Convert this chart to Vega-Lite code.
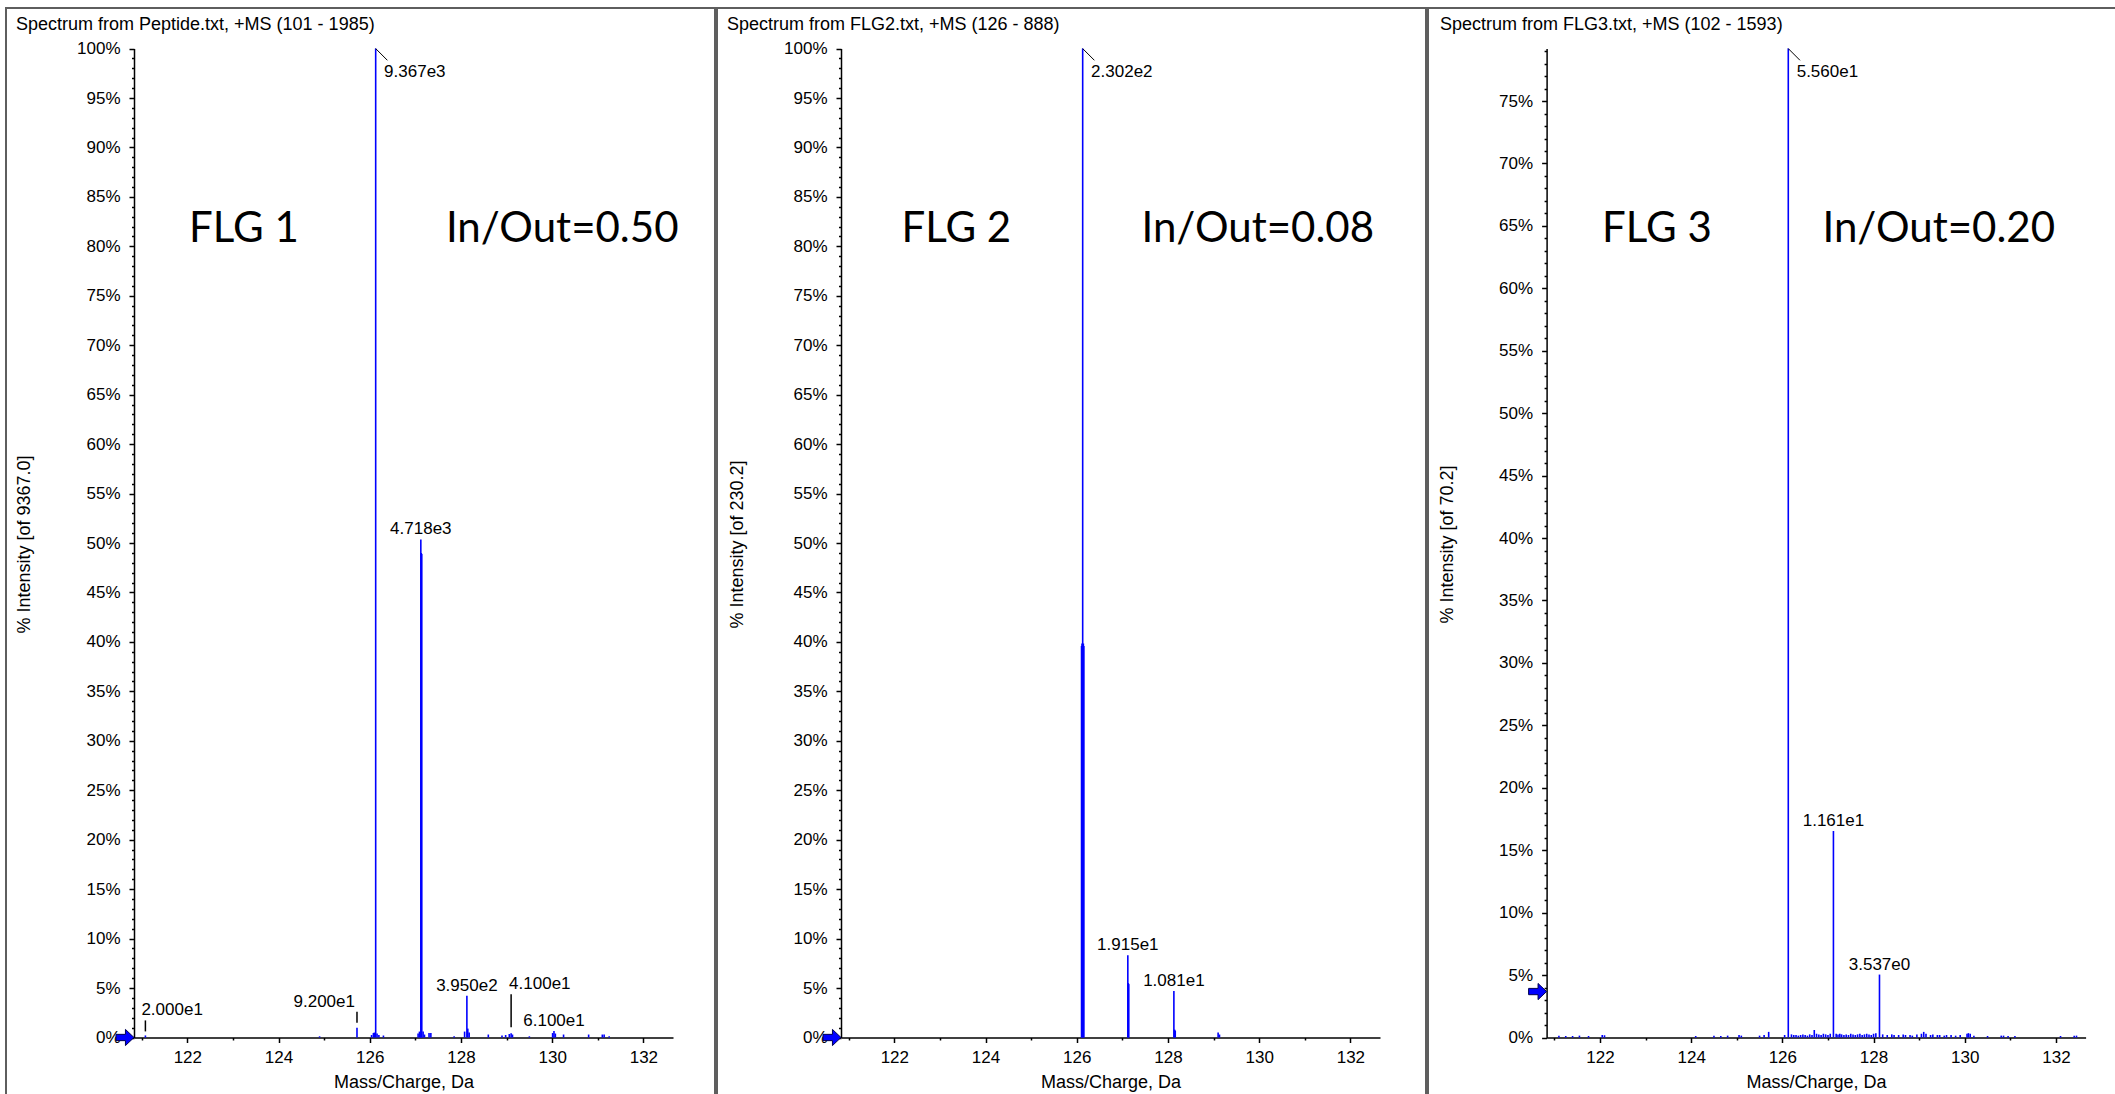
{
  "$schema": "https://vega.github.io/schema/vega-lite/v6.json",
  "background": "white",
  "padding": {"left": 5, "top": 7, "right": -3, "bottom": -3},
  "autosize": {"type": "pad"},
  "spacing": 0,
  "config": {
    "view": {"stroke": "#5e5e5e", "strokeWidth": 2},
    "font": "Liberation Sans",
    "concat": {"spacing": 0}
  },
  "datasets": {
    "peaks": [
      {"panel": 1, "mz": 121.08, "pct": 0.21},
      {"panel": 1, "mz": 124.9, "pct": 0.12},
      {"panel": 1, "mz": 125.72, "pct": 0.98},
      {"panel": 1, "mz": 126.04, "pct": 0.25},
      {"panel": 1, "mz": 126.08, "pct": 0.45},
      {"panel": 1, "mz": 126.1, "pct": 0.5},
      {"panel": 1, "mz": 126.13, "pct": 100},
      {"panel": 1, "mz": 126.16, "pct": 0.4},
      {"panel": 1, "mz": 126.2, "pct": 0.25},
      {"panel": 1, "mz": 126.3, "pct": 0.2},
      {"panel": 1, "mz": 127.06, "pct": 0.4},
      {"panel": 1, "mz": 127.09, "pct": 0.6},
      {"panel": 1, "mz": 127.12, "pct": 50.37},
      {"panel": 1, "mz": 127.13, "pct": 49.0},
      {"panel": 1, "mz": 127.14, "pct": 48.9},
      {"panel": 1, "mz": 127.17, "pct": 0.6},
      {"panel": 1, "mz": 127.2, "pct": 0.3},
      {"panel": 1, "mz": 127.3, "pct": 0.45},
      {"panel": 1, "mz": 127.34, "pct": 0.45},
      {"panel": 1, "mz": 127.85, "pct": 0.12},
      {"panel": 1, "mz": 128.08, "pct": 0.6},
      {"panel": 1, "mz": 128.13, "pct": 4.22},
      {"panel": 1, "mz": 128.15, "pct": 0.9},
      {"panel": 1, "mz": 128.18, "pct": 0.5},
      {"panel": 1, "mz": 128.6, "pct": 0.3},
      {"panel": 1, "mz": 128.9, "pct": 0.2},
      {"panel": 1, "mz": 128.98, "pct": 0.25},
      {"panel": 1, "mz": 129.06, "pct": 0.35},
      {"panel": 1, "mz": 129.1, "pct": 0.44},
      {"panel": 1, "mz": 129.13, "pct": 0.3},
      {"panel": 1, "mz": 129.5, "pct": 0.12},
      {"panel": 1, "mz": 130.01, "pct": 0.45},
      {"panel": 1, "mz": 130.04, "pct": 0.65},
      {"panel": 1, "mz": 130.07, "pct": 0.4},
      {"panel": 1, "mz": 130.25, "pct": 0.3},
      {"panel": 1, "mz": 130.8, "pct": 0.3},
      {"panel": 1, "mz": 131.1, "pct": 0.3},
      {"panel": 1, "mz": 131.14, "pct": 0.3},
      {"panel": 1, "mz": 131.25, "pct": 0.12},
      {"panel": 2, "mz": 126.105, "pct": 39.6},
      {"panel": 2, "mz": 126.115, "pct": 39.84},
      {"panel": 2, "mz": 126.13, "pct": 100},
      {"panel": 2, "mz": 126.145, "pct": 39.84},
      {"panel": 2, "mz": 126.155, "pct": 39.6},
      {"panel": 2, "mz": 127.12, "pct": 8.32},
      {"panel": 2, "mz": 127.13, "pct": 5.5},
      {"panel": 2, "mz": 127.14, "pct": 5.4},
      {"panel": 2, "mz": 128.13, "pct": 4.7},
      {"panel": 2, "mz": 128.145, "pct": 0.8},
      {"panel": 2, "mz": 128.16, "pct": 0.7},
      {"panel": 2, "mz": 129.1, "pct": 0.5},
      {"panel": 2, "mz": 129.13, "pct": 0.3},
      {"panel": 3, "mz": 126.13, "pct": 79.2},
      {"panel": 3, "mz": 127.12, "pct": 16.54},
      {"panel": 3, "mz": 128.13, "pct": 5.04},
      {"panel": 3, "mz": 121.1, "pct": 0.15},
      {"panel": 3, "mz": 121.25, "pct": 0.12},
      {"panel": 3, "mz": 121.4, "pct": 0.12},
      {"panel": 3, "mz": 121.55, "pct": 0.15},
      {"panel": 3, "mz": 121.75, "pct": 0.12},
      {"panel": 3, "mz": 122.05, "pct": 0.2},
      {"panel": 3, "mz": 122.1, "pct": 0.18},
      {"panel": 3, "mz": 124.1, "pct": 0.12},
      {"panel": 3, "mz": 124.5, "pct": 0.15},
      {"panel": 3, "mz": 124.65, "pct": 0.12},
      {"panel": 3, "mz": 124.8, "pct": 0.15},
      {"panel": 3, "mz": 125.05, "pct": 0.2},
      {"panel": 3, "mz": 125.1, "pct": 0.15},
      {"panel": 3, "mz": 125.5, "pct": 0.15},
      {"panel": 3, "mz": 125.6, "pct": 0.2},
      {"panel": 3, "mz": 125.7, "pct": 0.45},
      {"panel": 3, "mz": 126.05, "pct": 0.2},
      {"panel": 3, "mz": 126.2, "pct": 0.25},
      {"panel": 3, "mz": 126.25, "pct": 0.2},
      {"panel": 3, "mz": 126.3, "pct": 0.2},
      {"panel": 3, "mz": 126.35, "pct": 0.15},
      {"panel": 3, "mz": 126.4, "pct": 0.2},
      {"panel": 3, "mz": 126.45, "pct": 0.25},
      {"panel": 3, "mz": 126.5, "pct": 0.2},
      {"panel": 3, "mz": 126.55, "pct": 0.15},
      {"panel": 3, "mz": 126.6, "pct": 0.25},
      {"panel": 3, "mz": 126.65, "pct": 0.2},
      {"panel": 3, "mz": 126.7, "pct": 0.6},
      {"panel": 3, "mz": 126.75, "pct": 0.3},
      {"panel": 3, "mz": 126.8, "pct": 0.25},
      {"panel": 3, "mz": 126.85, "pct": 0.2},
      {"panel": 3, "mz": 126.9, "pct": 0.3},
      {"panel": 3, "mz": 126.95, "pct": 0.25},
      {"panel": 3, "mz": 127.0, "pct": 0.2},
      {"panel": 3, "mz": 127.05, "pct": 0.3},
      {"panel": 3, "mz": 127.18, "pct": 0.3},
      {"panel": 3, "mz": 127.22, "pct": 0.25},
      {"panel": 3, "mz": 127.26, "pct": 0.3},
      {"panel": 3, "mz": 127.3, "pct": 0.25},
      {"panel": 3, "mz": 127.35, "pct": 0.2},
      {"panel": 3, "mz": 127.4, "pct": 0.25},
      {"panel": 3, "mz": 127.45, "pct": 0.2},
      {"panel": 3, "mz": 127.5, "pct": 0.3},
      {"panel": 3, "mz": 127.55, "pct": 0.25},
      {"panel": 3, "mz": 127.6, "pct": 0.2},
      {"panel": 3, "mz": 127.65, "pct": 0.25},
      {"panel": 3, "mz": 127.7, "pct": 0.3},
      {"panel": 3, "mz": 127.75, "pct": 0.2},
      {"panel": 3, "mz": 127.8, "pct": 0.25},
      {"panel": 3, "mz": 127.85, "pct": 0.3},
      {"panel": 3, "mz": 127.9, "pct": 0.25},
      {"panel": 3, "mz": 127.95, "pct": 0.2},
      {"panel": 3, "mz": 128.0, "pct": 0.3},
      {"panel": 3, "mz": 128.05, "pct": 0.35},
      {"panel": 3, "mz": 128.2, "pct": 0.25},
      {"panel": 3, "mz": 128.3, "pct": 0.2},
      {"panel": 3, "mz": 128.4, "pct": 0.25},
      {"panel": 3, "mz": 128.45, "pct": 0.2},
      {"panel": 3, "mz": 128.55, "pct": 0.2},
      {"panel": 3, "mz": 128.65, "pct": 0.25},
      {"panel": 3, "mz": 128.7, "pct": 0.2},
      {"panel": 3, "mz": 128.8, "pct": 0.2},
      {"panel": 3, "mz": 128.85, "pct": 0.15},
      {"panel": 3, "mz": 128.95, "pct": 0.25},
      {"panel": 3, "mz": 129.05, "pct": 0.3},
      {"panel": 3, "mz": 129.1, "pct": 0.45},
      {"panel": 3, "mz": 129.15, "pct": 0.3},
      {"panel": 3, "mz": 129.25, "pct": 0.2},
      {"panel": 3, "mz": 129.3, "pct": 0.25},
      {"panel": 3, "mz": 129.4, "pct": 0.2},
      {"panel": 3, "mz": 129.45, "pct": 0.2},
      {"panel": 3, "mz": 129.55, "pct": 0.15},
      {"panel": 3, "mz": 129.6, "pct": 0.2},
      {"panel": 3, "mz": 129.7, "pct": 0.2},
      {"panel": 3, "mz": 129.8, "pct": 0.15},
      {"panel": 3, "mz": 129.9, "pct": 0.2},
      {"panel": 3, "mz": 130.05, "pct": 0.3},
      {"panel": 3, "mz": 130.08, "pct": 0.35},
      {"panel": 3, "mz": 130.12, "pct": 0.3},
      {"panel": 3, "mz": 130.2, "pct": 0.15},
      {"panel": 3, "mz": 130.5, "pct": 0.12},
      {"panel": 3, "mz": 130.8, "pct": 0.15},
      {"panel": 3, "mz": 130.85, "pct": 0.15},
      {"panel": 3, "mz": 130.95, "pct": 0.12},
      {"panel": 3, "mz": 131.1, "pct": 0.12},
      {"panel": 3, "mz": 132.1, "pct": 0.12},
      {"panel": 3, "mz": 132.4, "pct": 0.15},
      {"panel": 3, "mz": 132.45, "pct": 0.15}
    ],
    "labels": [
      {"panel": 1, "mz": 126.13, "pct": 100, "label": "9.367e3"},
      {"panel": 1, "mz": 127.12, "pct": 50.37, "label": "4.718e3"},
      {"panel": 1, "mz": 121.08, "pct": 0.21, "label": "2.000e1"},
      {"panel": 1, "mz": 125.72, "pct": 0.98, "label": "9.200e1"},
      {"panel": 1, "mz": 128.13, "pct": 4.22, "label": "3.950e2"},
      {"panel": 1, "mz": 129.1, "pct": 0.44, "label": "4.100e1"},
      {"panel": 1, "mz": 130.04, "pct": 0.65, "label": "6.100e1"},
      {"panel": 2, "mz": 126.13, "pct": 100, "label": "2.302e2"},
      {"panel": 2, "mz": 127.12, "pct": 8.32, "label": "1.915e1"},
      {"panel": 2, "mz": 128.13, "pct": 4.7, "label": "1.081e1"},
      {"panel": 3, "mz": 126.13, "pct": 79.2, "label": "5.560e1"},
      {"panel": 3, "mz": 127.12, "pct": 16.54, "label": "1.161e1"},
      {"panel": 3, "mz": 128.13, "pct": 5.04, "label": "3.537e0"}
    ],
    "notes": [
      {"panel": 1, "mz": 123.24, "pct": 81.8, "text": "FLG 1"},
      {"panel": 1, "mz": 130.22, "pct": 81.8, "text": "In/Out=0.50"},
      {"panel": 2, "mz": 123.36, "pct": 81.8, "text": "FLG 2"},
      {"panel": 2, "mz": 129.97, "pct": 81.8, "text": "In/Out=0.08"},
      {"panel": 3, "mz": 123.25, "pct": 64.78, "text": "FLG 3"},
      {"panel": 3, "mz": 129.43, "pct": 64.78, "text": "In/Out=0.20"}
    ],
    "arrows": [
      {"panel": 1, "mz": 120.83, "pct": 0},
      {"panel": 2, "mz": 120.83, "pct": 0},
      {"panel": 3, "mz": 120.83, "pct": 3.68}
    ]
  },
  "hconcat": [
    {
      "width": 709,
      "height": 1088,
      "title": {"text": "Spectrum from Peptide.txt, +MS (101 - 1985)", "anchor": "start", "frame": "group", "offset": -40, "baseline": "alphabetic", "dx": 10, "fontSize": 18, "fontWeight": "normal", "font": "Liberation Sans", "color": "#000"},
      "resolve": {"scale": {"x": "shared", "y": "shared"}, "axis": {"x": "independent", "y": "independent"}},
      "layer": [
        {
          "data": {"name": "peaks"},
          "transform": [{"filter": "datum.panel === 1"}],
          "mark": {"type": "rule", "color": "#0000ff", "strokeWidth": 1.6},
          "encoding": {
            "x": {"field": "mz", "type": "quantitative", "scale": {"domain": [120.83, 132.65], "range": [128, 667], "nice": false, "zero": false},
              "axis": {"orient": "bottom", "offset": -58.5, "values": [122, 124, 126, 128, 130, 132], "title": "Mass/Charge, Da", "titleY": 45, "titleBaseline": "middle", "titleFontSize": 18, "titleFontWeight": "normal", "titleFont": "Liberation Sans", "titleColor": "#000", "labelFont": "Liberation Sans", "labelFontSize": 17, "labelColor": "#000", "labelPadding": 7, "tickSize": 5, "tickWidth": 1.5, "tickColor": "#000", "domainColor": "#000", "domainWidth": 1.5, "grid": false, "labelFlush": false}},
            "y": {"field": "pct", "type": "quantitative", "scale": {"domain": [0, 100], "range": [1029.5, 40.6], "nice": false, "zero": false},
              "axis": {"orient": "left", "offset": -128, "values": [0, 5, 10, 15, 20, 25, 30, 35, 40, 45, 50, 55, 60, 65, 70, 75, 80, 85, 90, 95, 100], "labelExpr": "datum.label + '%'", "title": "% Intensity [of 9367.0]", "titleX": -110, "titleY": 536, "titleAngle": -90, "titleAlign": "center", "titleBaseline": "middle", "titleFontSize": 18, "titleFontWeight": "normal", "titleFont": "Liberation Sans", "titleColor": "#000", "labelFont": "Liberation Sans", "labelFontSize": 17, "labelColor": "#000", "labelPadding": 9, "tickSize": 5, "tickWidth": 1.5, "tickColor": "#000", "domainColor": "#000", "domainWidth": 1.5, "grid": false}},
            "y2": {"datum": 0}
          }
        },
        {
          "data": {"name": "arrows"},
          "transform": [{"filter": "datum.panel === 1"}],
          "mark": {"type": "point", "shape": "M-1,-0.35L0.05,-0.35L0.05,-0.9L1,0L0.05,0.9L0.05,0.35L-1,0.35Z", "size": 324, "filled": true, "fill": "#0000ff", "stroke": "#000050", "strokeWidth": 1, "opacity": 1, "xOffset": -9},
          "encoding": {
            "x": {"field": "mz", "type": "quantitative", "scale": {"domain": [120.83, 132.65], "range": [128, 667], "nice": false, "zero": false},
              "axis": {"orient": "bottom", "offset": -58.5, "values": [121, 123, 125, 127, 129, 131], "labels": false, "domain": false, "title": null, "tickSize": 2.5, "tickWidth": 1.5, "tickColor": "#000", "grid": false}},
            "y": {"field": "pct", "type": "quantitative", "scale": {"domain": [0, 100], "range": [1029.5, 40.6], "nice": false, "zero": false},
              "axis": {"orient": "left", "offset": -128, "values": [1, 2, 3, 4, 6, 7, 8, 9, 11, 12, 13, 14, 16, 17, 18, 19, 21, 22, 23, 24, 26, 27, 28, 29, 31, 32, 33, 34, 36, 37, 38, 39, 41, 42, 43, 44, 46, 47, 48, 49, 51, 52, 53, 54, 56, 57, 58, 59, 61, 62, 63, 64, 66, 67, 68, 69, 71, 72, 73, 74, 76, 77, 78, 79, 81, 82, 83, 84, 86, 87, 88, 89, 91, 92, 93, 94, 96, 97, 98, 99], "labels": false, "domain": false, "title": null, "tickSize": 2.5, "tickWidth": 1.5, "tickColor": "#000", "grid": false}}
          }
        },
        {
          "data": {"name": "labels"},
          "transform": [{"filter": "datum.panel === 1 && datum.label === '9.367e3'"}],
          "mark": {"type": "rule", "color": "#000", "strokeWidth": 1, "x2Offset": 11.7, "y2Offset": 11.7},
          "encoding": {
            "x": {"field": "mz", "type": "quantitative", "axis": null},
            "x2": {"field": "mz"},
            "y": {"field": "pct", "type": "quantitative", "axis": null},
            "y2": {"field": "pct"}
          }
        },
        {
          "data": {"name": "labels"},
          "transform": [{"filter": "datum.panel === 1 && datum.label === '9.367e3'"}],
          "mark": {"type": "text", "align": "left", "baseline": "top", "dx": 8.4, "dy": 15.5, "fontSize": 17, "font": "Liberation Sans", "color": "#000"},
          "encoding": {
            "x": {"field": "mz", "type": "quantitative", "axis": null},
            "y": {"field": "pct", "type": "quantitative", "axis": null},
            "text": {"field": "label"}
          }
        },
        {
          "data": {"name": "labels"},
          "transform": [{"filter": {"field": "label", "oneOf": ["4.718e3", "3.950e2", "6.100e1"]}}],
          "mark": {"type": "text", "align": "center", "baseline": "bottom", "dy": -1, "fontSize": 17, "font": "Liberation Sans", "color": "#000"},
          "encoding": {
            "x": {"field": "mz", "type": "quantitative", "axis": null},
            "y": {"field": "pct", "type": "quantitative", "axis": null},
            "text": {"field": "label"}
          }
        },
        {
          "data": {"name": "labels"},
          "transform": [{"filter": {"field": "label", "equal": "2.000e1"}}],
          "mark": {"type": "rule", "color": "#000", "strokeWidth": 1.5, "yOffset": -4, "y2Offset": -15},
          "encoding": {
            "x": {"field": "mz", "type": "quantitative", "axis": null},
            "y": {"field": "pct", "type": "quantitative", "axis": null},
            "y2": {"field": "pct"}
          }
        },
        {
          "data": {"name": "labels"},
          "transform": [{"filter": {"field": "label", "equal": "2.000e1"}}],
          "mark": {"type": "text", "align": "left", "baseline": "bottom", "dx": -4, "dy": -16, "fontSize": 17, "font": "Liberation Sans", "color": "#000"},
          "encoding": {
            "x": {"field": "mz", "type": "quantitative", "axis": null},
            "y": {"field": "pct", "type": "quantitative", "axis": null},
            "text": {"field": "label"}
          }
        },
        {
          "data": {"name": "labels"},
          "transform": [{"filter": {"field": "label", "equal": "9.200e1"}}],
          "mark": {"type": "rule", "color": "#000", "strokeWidth": 1.5, "yOffset": -5, "y2Offset": -16},
          "encoding": {
            "x": {"field": "mz", "type": "quantitative", "axis": null},
            "y": {"field": "pct", "type": "quantitative", "axis": null},
            "y2": {"field": "pct"}
          }
        },
        {
          "data": {"name": "labels"},
          "transform": [{"filter": {"field": "label", "equal": "9.200e1"}}],
          "mark": {"type": "text", "align": "right", "baseline": "bottom", "dx": -2, "dy": -17, "fontSize": 17, "font": "Liberation Sans", "color": "#000"},
          "encoding": {
            "x": {"field": "mz", "type": "quantitative", "axis": null},
            "y": {"field": "pct", "type": "quantitative", "axis": null},
            "text": {"field": "label"}
          }
        },
        {
          "data": {"name": "labels"},
          "transform": [{"filter": {"field": "label", "equal": "4.100e1"}}],
          "mark": {"type": "rule", "color": "#000", "strokeWidth": 1.5, "yOffset": -6, "y2Offset": -39},
          "encoding": {
            "x": {"field": "mz", "type": "quantitative", "axis": null},
            "y": {"field": "pct", "type": "quantitative", "axis": null},
            "y2": {"field": "pct"}
          }
        },
        {
          "data": {"name": "labels"},
          "transform": [{"filter": {"field": "label", "equal": "4.100e1"}}],
          "mark": {"type": "text", "align": "left", "baseline": "bottom", "dx": -2, "dy": -40, "fontSize": 17, "font": "Liberation Sans", "color": "#000"},
          "encoding": {
            "x": {"field": "mz", "type": "quantitative", "axis": null},
            "y": {"field": "pct", "type": "quantitative", "axis": null},
            "text": {"field": "label"}
          }
        },
        {
          "data": {"name": "notes"},
          "transform": [{"filter": "datum.panel === 1"}],
          "mark": {"type": "text", "align": "center", "baseline": "middle", "fontSize": 42, "font": "Lato", "color": "#000"},
          "encoding": {
            "x": {"field": "mz", "type": "quantitative", "axis": null},
            "y": {"field": "pct", "type": "quantitative", "axis": null},
            "text": {"field": "text"}
          }
        }
      ]
    },
    {
      "width": 709,
      "height": 1088,
      "title": {"text": "Spectrum from FLG2.txt, +MS (126 - 888)", "anchor": "start", "frame": "group", "offset": -40, "baseline": "alphabetic", "dx": 10, "fontSize": 18, "fontWeight": "normal", "font": "Liberation Sans", "color": "#000"},
      "resolve": {"scale": {"x": "shared", "y": "shared"}, "axis": {"x": "independent", "y": "independent"}},
      "layer": [
        {
          "data": {"name": "peaks"},
          "transform": [{"filter": "datum.panel === 2"}],
          "mark": {"type": "rule", "color": "#0000ff", "strokeWidth": 1.6},
          "encoding": {
            "x": {"field": "mz", "type": "quantitative", "scale": {"domain": [120.83, 132.65], "range": [124, 663], "nice": false, "zero": false},
              "axis": {"orient": "bottom", "offset": -58.5, "values": [122, 124, 126, 128, 130, 132], "title": "Mass/Charge, Da", "titleY": 45, "titleBaseline": "middle", "titleFontSize": 18, "titleFontWeight": "normal", "titleFont": "Liberation Sans", "titleColor": "#000", "labelFont": "Liberation Sans", "labelFontSize": 17, "labelColor": "#000", "labelPadding": 7, "tickSize": 5, "tickWidth": 1.5, "tickColor": "#000", "domainColor": "#000", "domainWidth": 1.5, "grid": false, "labelFlush": false}},
            "y": {"field": "pct", "type": "quantitative", "scale": {"domain": [0, 100], "range": [1029.5, 40.6], "nice": false, "zero": false},
              "axis": {"orient": "left", "offset": -124, "values": [0, 5, 10, 15, 20, 25, 30, 35, 40, 45, 50, 55, 60, 65, 70, 75, 80, 85, 90, 95, 100], "labelExpr": "datum.label + '%'", "title": "% Intensity [of 230.2]", "titleX": -104, "titleY": 536, "titleAngle": -90, "titleAlign": "center", "titleBaseline": "middle", "titleFontSize": 18, "titleFontWeight": "normal", "titleFont": "Liberation Sans", "titleColor": "#000", "labelFont": "Liberation Sans", "labelFontSize": 17, "labelColor": "#000", "labelPadding": 9, "tickSize": 5, "tickWidth": 1.5, "tickColor": "#000", "domainColor": "#000", "domainWidth": 1.5, "grid": false}},
            "y2": {"datum": 0}
          }
        },
        {
          "data": {"name": "arrows"},
          "transform": [{"filter": "datum.panel === 2"}],
          "mark": {"type": "point", "shape": "M-1,-0.35L0.05,-0.35L0.05,-0.9L1,0L0.05,0.9L0.05,0.35L-1,0.35Z", "size": 324, "filled": true, "fill": "#0000ff", "stroke": "#000050", "strokeWidth": 1, "opacity": 1, "xOffset": -9},
          "encoding": {
            "x": {"field": "mz", "type": "quantitative", "scale": {"domain": [120.83, 132.65], "range": [124, 663], "nice": false, "zero": false},
              "axis": {"orient": "bottom", "offset": -58.5, "values": [121, 123, 125, 127, 129, 131], "labels": false, "domain": false, "title": null, "tickSize": 2.5, "tickWidth": 1.5, "tickColor": "#000", "grid": false}},
            "y": {"field": "pct", "type": "quantitative", "scale": {"domain": [0, 100], "range": [1029.5, 40.6], "nice": false, "zero": false},
              "axis": {"orient": "left", "offset": -124, "values": [1, 2, 3, 4, 6, 7, 8, 9, 11, 12, 13, 14, 16, 17, 18, 19, 21, 22, 23, 24, 26, 27, 28, 29, 31, 32, 33, 34, 36, 37, 38, 39, 41, 42, 43, 44, 46, 47, 48, 49, 51, 52, 53, 54, 56, 57, 58, 59, 61, 62, 63, 64, 66, 67, 68, 69, 71, 72, 73, 74, 76, 77, 78, 79, 81, 82, 83, 84, 86, 87, 88, 89, 91, 92, 93, 94, 96, 97, 98, 99], "labels": false, "domain": false, "title": null, "tickSize": 2.5, "tickWidth": 1.5, "tickColor": "#000", "grid": false}}
          }
        },
        {
          "data": {"name": "labels"},
          "transform": [{"filter": "datum.panel === 2 && datum.label === '2.302e2'"}],
          "mark": {"type": "rule", "color": "#000", "strokeWidth": 1, "x2Offset": 11.7, "y2Offset": 11.7},
          "encoding": {
            "x": {"field": "mz", "type": "quantitative", "axis": null},
            "x2": {"field": "mz"},
            "y": {"field": "pct", "type": "quantitative", "axis": null},
            "y2": {"field": "pct"}
          }
        },
        {
          "data": {"name": "labels"},
          "transform": [{"filter": "datum.panel === 2 && datum.label === '2.302e2'"}],
          "mark": {"type": "text", "align": "left", "baseline": "top", "dx": 8.4, "dy": 15.5, "fontSize": 17, "font": "Liberation Sans", "color": "#000"},
          "encoding": {
            "x": {"field": "mz", "type": "quantitative", "axis": null},
            "y": {"field": "pct", "type": "quantitative", "axis": null},
            "text": {"field": "label"}
          }
        },
        {
          "data": {"name": "labels"},
          "transform": [{"filter": {"field": "label", "oneOf": ["1.915e1", "1.081e1"]}}],
          "mark": {"type": "text", "align": "center", "baseline": "bottom", "dy": -1, "fontSize": 17, "font": "Liberation Sans", "color": "#000"},
          "encoding": {
            "x": {"field": "mz", "type": "quantitative", "axis": null},
            "y": {"field": "pct", "type": "quantitative", "axis": null},
            "text": {"field": "label"}
          }
        },
        {
          "data": {"name": "notes"},
          "transform": [{"filter": "datum.panel === 2"}],
          "mark": {"type": "text", "align": "center", "baseline": "middle", "fontSize": 42, "font": "Lato", "color": "#000"},
          "encoding": {
            "x": {"field": "mz", "type": "quantitative", "axis": null},
            "y": {"field": "pct", "type": "quantitative", "axis": null},
            "text": {"field": "text"}
          }
        }
      ]
    },
    {
      "width": 689,
      "height": 1088,
      "title": {"text": "Spectrum from FLG3.txt, +MS (102 - 1593)", "anchor": "start", "frame": "group", "offset": -40, "baseline": "alphabetic", "dx": 12, "fontSize": 18, "fontWeight": "normal", "font": "Liberation Sans", "color": "#000"},
      "resolve": {"scale": {"x": "shared", "y": "shared"}, "axis": {"x": "independent", "y": "independent"}},
      "layer": [
        {
          "data": {"name": "peaks"},
          "transform": [{"filter": "datum.panel === 3"}],
          "mark": {"type": "rule", "color": "#0000ff", "strokeWidth": 1.6},
          "encoding": {
            "x": {"field": "mz", "type": "quantitative", "scale": {"domain": [120.83, 132.65], "range": [118.6, 657.6], "nice": false, "zero": false},
              "axis": {"orient": "bottom", "offset": -58.5, "values": [122, 124, 126, 128, 130, 132], "title": "Mass/Charge, Da", "titleY": 45, "titleBaseline": "middle", "titleFontSize": 18, "titleFontWeight": "normal", "titleFont": "Liberation Sans", "titleColor": "#000", "labelFont": "Liberation Sans", "labelFontSize": 17, "labelColor": "#000", "labelPadding": 7, "tickSize": 5, "tickWidth": 1.5, "tickColor": "#000", "domainColor": "#000", "domainWidth": 1.5, "grid": false, "labelFlush": false}},
            "y": {"field": "pct", "type": "quantitative", "scale": {"domain": [0, 79.2], "range": [1029.5, 40.6], "nice": false, "zero": false},
              "axis": {"orient": "left", "offset": -118.6, "values": [0, 5, 10, 15, 20, 25, 30, 35, 40, 45, 50, 55, 60, 65, 70, 75], "labelExpr": "datum.label + '%'", "title": "% Intensity [of 70.2]", "titleX": -99, "titleY": 536, "titleAngle": -90, "titleAlign": "center", "titleBaseline": "middle", "titleFontSize": 18, "titleFontWeight": "normal", "titleFont": "Liberation Sans", "titleColor": "#000", "labelFont": "Liberation Sans", "labelFontSize": 17, "labelColor": "#000", "labelPadding": 9, "tickSize": 5, "tickWidth": 1.5, "tickColor": "#000", "domainColor": "#000", "domainWidth": 1.5, "grid": false}},
            "y2": {"datum": 0}
          }
        },
        {
          "data": {"name": "arrows"},
          "transform": [{"filter": "datum.panel === 3"}],
          "mark": {"type": "point", "shape": "M-1,-0.35L0.05,-0.35L0.05,-0.9L1,0L0.05,0.9L0.05,0.35L-1,0.35Z", "size": 324, "filled": true, "fill": "#0000ff", "stroke": "#000050", "strokeWidth": 1, "opacity": 1, "xOffset": -9},
          "encoding": {
            "x": {"field": "mz", "type": "quantitative", "scale": {"domain": [120.83, 132.65], "range": [118.6, 657.6], "nice": false, "zero": false},
              "axis": {"orient": "bottom", "offset": -58.5, "values": [121, 123, 125, 127, 129, 131], "labels": false, "domain": false, "title": null, "tickSize": 2.5, "tickWidth": 1.5, "tickColor": "#000", "grid": false}},
            "y": {"field": "pct", "type": "quantitative", "scale": {"domain": [0, 79.2], "range": [1029.5, 40.6], "nice": false, "zero": false},
              "axis": {"orient": "left", "offset": -118.6, "values": [1, 2, 3, 4, 6, 7, 8, 9, 11, 12, 13, 14, 16, 17, 18, 19, 21, 22, 23, 24, 26, 27, 28, 29, 31, 32, 33, 34, 36, 37, 38, 39, 41, 42, 43, 44, 46, 47, 48, 49, 51, 52, 53, 54, 56, 57, 58, 59, 61, 62, 63, 64, 66, 67, 68, 69, 71, 72, 73, 74, 76, 77, 78, 79], "labels": false, "domain": false, "title": null, "tickSize": 2.5, "tickWidth": 1.5, "tickColor": "#000", "grid": false}}
          }
        },
        {
          "data": {"name": "labels"},
          "transform": [{"filter": "datum.panel === 3 && datum.label === '5.560e1'"}],
          "mark": {"type": "rule", "color": "#000", "strokeWidth": 1, "x2Offset": 11.7, "y2Offset": 11.7},
          "encoding": {
            "x": {"field": "mz", "type": "quantitative", "axis": null},
            "x2": {"field": "mz"},
            "y": {"field": "pct", "type": "quantitative", "axis": null},
            "y2": {"field": "pct"}
          }
        },
        {
          "data": {"name": "labels"},
          "transform": [{"filter": "datum.panel === 3 && datum.label === '5.560e1'"}],
          "mark": {"type": "text", "align": "left", "baseline": "top", "dx": 8.4, "dy": 15.5, "fontSize": 17, "font": "Liberation Sans", "color": "#000"},
          "encoding": {
            "x": {"field": "mz", "type": "quantitative", "axis": null},
            "y": {"field": "pct", "type": "quantitative", "axis": null},
            "text": {"field": "label"}
          }
        },
        {
          "data": {"name": "labels"},
          "transform": [{"filter": {"field": "label", "oneOf": ["1.161e1", "3.537e0"]}}],
          "mark": {"type": "text", "align": "center", "baseline": "bottom", "dy": -1, "fontSize": 17, "font": "Liberation Sans", "color": "#000"},
          "encoding": {
            "x": {"field": "mz", "type": "quantitative", "axis": null},
            "y": {"field": "pct", "type": "quantitative", "axis": null},
            "text": {"field": "label"}
          }
        },
        {
          "data": {"name": "notes"},
          "transform": [{"filter": "datum.panel === 3"}],
          "mark": {"type": "text", "align": "center", "baseline": "middle", "fontSize": 42, "font": "Lato", "color": "#000"},
          "encoding": {
            "x": {"field": "mz", "type": "quantitative", "axis": null},
            "y": {"field": "pct", "type": "quantitative", "axis": null},
            "text": {"field": "text"}
          }
        }
      ]
    }
  ]
}
